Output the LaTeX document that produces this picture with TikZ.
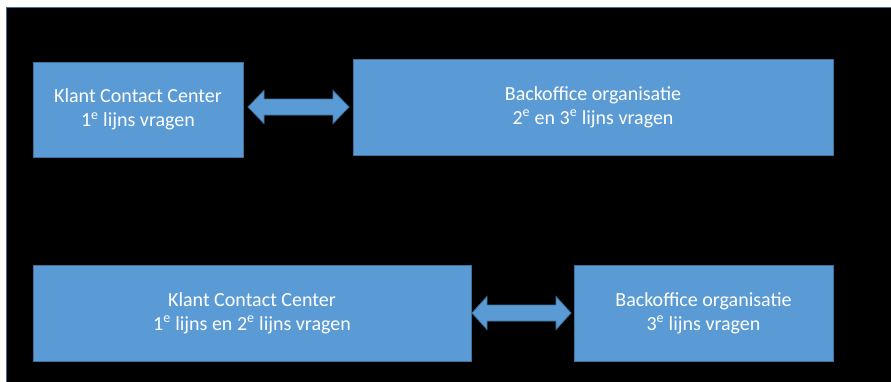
\documentclass[tikz,border=0pt]{standalone}
\usepackage{fontspec}
\setmainfont{Carlito}
\usetikzlibrary{calc}
\definecolor{boxfill}{HTML}{5B9BD5}
\definecolor{boxline}{HTML}{41719C}
\tikzset{
  box/.style={rectangle, fill=boxfill, draw=boxline, line width=1pt, inner sep=0pt, outer sep=0pt,
    text=white, align=center, font=\fontsize{20}{24}\selectfont},
  dblarrow/.style={fill=boxfill, draw=boxline, line width=0.8pt, line join=miter}
}
\begin{document}
\begin{tikzpicture}[x=1pt,y=-1pt]
\useasboundingbox (0,0) rectangle (891,381);
\fill[white] (0,0) rectangle (891,381);
\draw[fill=black, draw=boxline, line width=1pt] (6,7) rectangle (895,385);
\node[box, minimum width=210pt, minimum height=95pt] (k1) at (138,109.5)
  {Klant Contact Center\\1\textsuperscript{e} lijns vragen};
\node[box, minimum width=480pt, minimum height=96pt] (b1) at (593,107)
  {Backoffice organisatie\\2\textsuperscript{e} en 3\textsuperscript{e} lijns vragen};
\node[box, minimum width=438pt, minimum height=96pt] (k2) at (252,313)
  {Klant Contact Center\\1\textsuperscript{e} lijns en 2\textsuperscript{e} lijns vragen};
\node[box, minimum width=259pt, minimum height=96pt] (b2) at (703.5,313)
  {Backoffice organisatie\\3\textsuperscript{e} lijns vragen};
\draw[dblarrow] let \p1=($(k1.east)+(5pt,0pt)$), \p2=($(b1.west)+(-4pt,0pt)$) in
  (\x1,\y2) -- (\x1+16pt,\y2+16.5pt) -- (\x1+16pt,\y2+8pt) -- (\x2-16pt,\y2+8pt)
  -- (\x2-16pt,\y2+16.5pt) -- (\x2,\y2) -- (\x2-16pt,\y2-16.5pt) -- (\x2-16pt,\y2-8pt)
  -- (\x1+16pt,\y2-8pt) -- (\x1+16pt,\y2-16.5pt) -- cycle;
\draw[dblarrow] let \p1=($(k2.east)+(1pt,0pt)$), \p2=($(b2.west)+(-3pt,0pt)$) in
  (\x1,\y2) -- (\x1+15pt,\y2+16.5pt) -- (\x1+15pt,\y2+8pt) -- (\x2-15pt,\y2+8pt)
  -- (\x2-15pt,\y2+16.5pt) -- (\x2,\y2) -- (\x2-15pt,\y2-16.5pt) -- (\x2-15pt,\y2-8pt)
  -- (\x1+15pt,\y2-8pt) -- (\x1+15pt,\y2-16.5pt) -- cycle;
\end{tikzpicture}
\end{document}
